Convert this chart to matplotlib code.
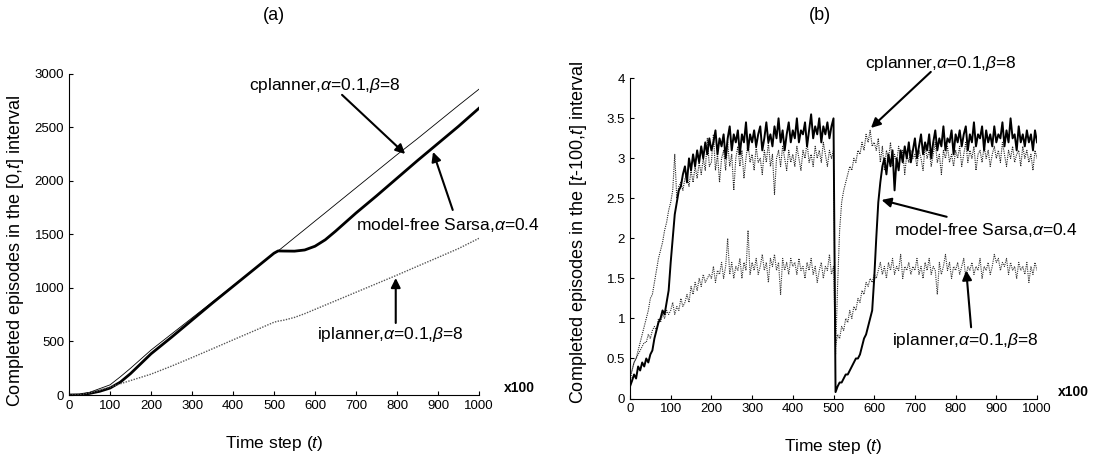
import matplotlib
matplotlib.use("Agg")
import matplotlib.pyplot as plt
import numpy as np

plt.rcParams['font.family'] = ['Liberation Sans', 'DejaVu Sans']
plt.rcParams['mathtext.fontset'] = 'custom'
plt.rcParams['mathtext.rm'] = 'Liberation Sans'
plt.rcParams['mathtext.it'] = 'Liberation Sans:italic'
plt.rcParams['mathtext.bf'] = 'Liberation Sans:bold'

# ---- panel (a): cumulative episodes ----
x_a = [0, 25, 50, 75, 100, 125, 150, 200, 250, 300, 350, 400, 450, 500, 510,
       525, 550, 575, 600, 625, 650, 700, 750, 800, 850, 900, 950, 1000]
cplanner_a = [0, 2, 25, 60, 95, 170, 250, 420, 570, 720, 870, 1020, 1170, 1320, 1346,
              1392, 1470, 1547, 1625, 1702, 1780, 1935, 2090, 2245, 2395, 2550, 2705, 2857]
sarsa_a = [0, 2, 15, 35, 65, 120, 200, 385, 540, 700, 860, 1015, 1170, 1325, 1346,
           1345, 1344, 1355, 1390, 1450, 1530, 1700, 1860, 2025, 2190, 2350, 2510, 2679]
iplanner_a = [0, 2, 20, 45, 75, 105, 135, 195, 270, 350, 432, 515, 597, 680, 690,
              700, 725, 760, 800, 840, 880, 960, 1040, 1120, 1203, 1285, 1368, 1464]

# ---- panel (b): episodes in the last 100 steps, sampled every 5 units ----
sarsa_b = [
    0.15, 0.22, 0.3, 0.25, 0.4, 0.35, 0.45, 0.4, 0.5, 0.45, 0.55, 0.6, 0.75, 0.85, 0.95, 1.0, 1.1, 1.05, 1.2, 1.35,
    1.7, 2.0, 2.3, 2.45, 2.6, 2.65, 2.8, 2.9, 2.7, 3.0, 2.85, 3.05, 2.9, 3.1, 2.95, 3.15, 3.0, 3.2, 3.05, 3.25,
    3.1, 3.2, 3.35, 3.05, 3.25, 3.15, 3.3, 3.0, 3.25, 3.4, 3.1, 3.3, 3.2, 3.35, 3.05, 3.3, 3.2, 3.45, 3.1, 3.3,
    3.2, 3.35, 3.15, 3.3, 3.4, 3.1, 3.25, 3.45, 3.2, 3.3, 3.15, 3.4, 3.25, 3.5, 3.2, 3.35, 3.1, 3.3, 3.45, 3.2,
    3.35, 3.25, 3.5, 3.2, 3.35, 3.3, 3.45, 3.15, 3.35, 3.55, 3.25, 3.4, 3.3, 3.5, 3.2, 3.4, 3.3, 3.45, 3.25, 3.4,
    3.5, 0.08, 0.15, 0.2, 0.2, 0.25, 0.3, 0.3, 0.35, 0.4, 0.45, 0.5, 0.5, 0.55, 0.65, 0.75, 0.8, 0.9, 1.0, 1.1,
    1.5, 2.0, 2.45, 2.7, 2.9, 3.0, 2.8, 3.05, 2.9, 3.1, 2.6, 3.0, 2.85, 3.1, 2.95, 3.15, 3.0, 3.2, 2.95, 3.1,
    3.25, 3.0, 3.15, 3.3, 3.05, 3.2, 3.1, 3.3, 3.0, 3.2, 3.35, 3.1, 3.25, 3.15, 3.4, 3.1, 3.25, 3.2, 3.35, 3.05,
    3.3, 3.2, 3.35, 3.15, 3.3, 3.4, 3.1, 3.3, 3.2, 3.45, 3.15, 3.3, 3.25, 3.4, 3.1, 3.35, 3.2, 3.3, 3.15, 3.4,
    3.2, 3.3, 3.25, 3.45, 3.15, 3.35, 3.2, 3.5, 3.25, 3.3, 3.1, 3.4, 3.2, 3.3, 3.15, 3.35, 3.2, 3.3, 3.1, 3.35,
    3.2]
cplanner_b = [
    0.2, 0.35, 0.45, 0.5, 0.6, 0.7, 0.8, 0.9, 1.0, 1.1, 1.25, 1.3, 1.45, 1.6, 1.75, 1.85, 1.95, 2.1, 2.2, 2.35,
    2.45, 2.6, 3.05, 2.5, 2.65, 2.7, 2.6, 2.75, 2.8, 2.65, 2.85, 2.7, 2.9, 2.75, 2.95, 2.8, 3.0, 2.85, 3.25, 2.9,
    2.95, 3.3, 2.85, 3.05, 2.7, 3.0, 3.1, 2.85, 3.2, 2.9, 3.05, 2.6, 3.0, 3.15, 2.9, 3.1, 2.75, 3.0, 3.2, 2.95,
    3.05, 2.85, 3.15, 2.95, 3.0, 2.8, 3.1, 2.95, 3.2, 2.9, 3.05, 2.55, 3.0, 3.1, 2.9, 3.15, 3.0, 2.85, 3.1, 2.95,
    3.05, 2.9, 3.15, 3.0, 2.85, 3.1, 3.0, 3.2, 2.95, 3.05, 2.9, 3.15, 3.0, 3.1, 2.95, 3.2, 3.05, 2.9, 3.1, 3.0,
    3.1, 0.55, 1.4, 2.1, 2.45, 2.6, 2.7, 2.8, 2.9, 2.85, 3.0, 2.95, 3.1, 3.05, 3.2, 3.1, 3.3, 3.2, 3.35, 3.15,
    3.2, 3.1, 3.25, 2.95, 3.15, 2.85, 3.1, 3.0, 3.2, 2.9, 3.05, 2.95, 3.15, 3.0, 3.1, 2.8, 3.05, 2.95, 3.1, 3.0,
    3.05, 2.9, 3.1, 3.0, 2.85, 3.15, 3.0, 3.1, 2.9, 3.05, 3.2, 2.95, 3.05, 2.8, 3.1, 3.0, 3.15, 2.95, 3.05, 2.9,
    3.1, 3.0, 3.15, 2.9, 3.05, 3.2, 2.95, 3.1, 3.0, 3.15, 2.85, 3.05, 3.1, 2.95, 3.15, 3.0, 3.1, 2.9, 3.05, 3.15,
    3.0, 3.1, 2.95, 3.2, 3.05, 2.9, 3.1, 3.0, 3.15, 2.95, 3.05, 3.1, 2.9, 3.15, 3.0, 3.1, 2.95, 3.05, 2.85, 3.1,
    3.0]
iplanner_b = [
    0.3, 0.35, 0.45, 0.5, 0.55, 0.6, 0.65, 0.7, 0.7, 0.8, 0.75, 0.85, 0.9, 0.85, 1.0, 0.95, 1.05, 1.0, 1.1, 1.05,
    1.1, 1.2, 1.05, 1.15, 1.1, 1.25, 1.15, 1.2, 1.3, 1.2, 1.4, 1.3, 1.45, 1.35, 1.5, 1.4, 1.55, 1.45, 1.5, 1.55,
    1.5, 1.65, 1.45, 1.6, 1.55, 1.7, 1.5, 1.65, 2.0, 1.55, 1.7, 1.5, 1.65, 1.6, 1.75, 1.5, 1.7, 1.6, 2.1, 1.55,
    1.7, 1.6, 1.75, 1.55, 1.65, 1.8, 1.6, 1.7, 1.45, 1.75, 1.65, 1.8, 1.6, 1.7, 1.3, 1.75, 1.6, 1.7, 1.55, 1.75,
    1.65, 1.7, 1.55, 1.75, 1.6, 1.65, 1.5, 1.7, 1.6, 1.75, 1.55, 1.65, 1.45, 1.6, 1.7, 1.5, 1.65, 1.6, 1.8, 1.55,
    1.65, 0.65, 0.8, 0.75, 0.9, 0.85, 1.0, 0.95, 1.1, 1.0, 1.15, 1.1, 1.25, 1.2, 1.35, 1.3, 1.45, 1.4, 1.5, 1.45,
    1.55, 1.5, 1.6, 1.7, 1.55, 1.65, 1.5, 1.7, 1.6, 1.75, 1.55, 1.65, 1.6, 1.8, 1.5, 1.65, 1.6, 1.7, 1.55, 1.65,
    1.6, 1.75, 1.55, 1.65, 1.5, 1.7, 1.6, 1.75, 1.55, 1.65, 1.6, 1.3, 1.7, 1.55, 1.65, 1.8, 1.6, 1.7, 1.5, 1.65,
    1.6, 1.7, 1.55, 1.65, 1.75, 1.5, 1.65, 1.6, 1.7, 1.55, 1.65, 1.6, 1.75, 1.5, 1.65, 1.6, 1.7, 1.55, 1.65, 1.8,
    1.7, 1.75, 1.6, 1.7, 1.65, 1.75, 1.55, 1.7, 1.6, 1.65, 1.5, 1.7, 1.6, 1.65, 1.55, 1.7, 1.45, 1.65, 1.55, 1.7,
    1.6]

x_ticks = [0, 100, 200, 300, 400, 500, 600, 700, 800, 900, 1000]
ya_ticks = [0, 500, 1000, 1500, 2000, 2500, 3000]
yb_ticks = [0, 0.5, 1, 1.5, 2, 2.5, 3, 3.5, 4]
yb_labels = ['0', '0.5', '1', '1.5', '2', '2.5', '3', '3.5', '4']

lab_c = r"cplanner,$\mathit{\alpha}\text{=}\mathit{0.1}$,$\mathit{\beta}\text{=}$8"
lab_s = r"model-free Sarsa,$\mathit{\alpha}\text{=}\mathit{0.4}$"
lab_i = r"iplanner,$\mathit{\alpha}\text{=}\mathit{0.1}$,$\mathit{\beta}\text{=}$8"

fig = plt.figure(figsize=(10.96, 4.59), dpi=100)
ax1 = fig.add_axes([0.063, 0.1394, 0.374, 0.6996])
ax2 = fig.add_axes([0.5748, 0.1318, 0.3714, 0.6976])

ax1.plot(x_a, cplanner_a, color='black', lw=0.6)
ax1.plot(x_a, sarsa_a, color='black', lw=2.0)
ax1.plot(x_a, iplanner_a, color='#555555', lw=1.0, ls=(0, (1, 1)))

xb = np.arange(len(sarsa_b)) * 5
ax2.plot(np.arange(len(iplanner_b)) * 5, iplanner_b, color='#333333', lw=0.8, ls=(0, (1, 1)))
ax2.plot(np.arange(len(cplanner_b)) * 5, cplanner_b, color='#222222', lw=0.8, ls=(0, (1, 1)))
ax2.plot(xb, sarsa_b, color='black', lw=1.4)

for ax in (ax1, ax2):
    ax.set_xlim(0, 1000)
    ax.set_xticks(x_ticks)
    ax.spines['top'].set_visible(False)
    ax.spines['right'].set_visible(False)
    ax.tick_params(direction='in', length=3, labelsize=9.5, width=0.8)
    ax.set_xlabel(r"Time step ($\mathit{t}$)", fontsize=12.5)
    ax.xaxis.set_label_coords(0.5, -0.12)

ax1.set_ylim(0, 3000)
ax1.set_yticks(ya_ticks)
ax1.set_ylabel(r"Completed episodes in the [0,$\mathit{t}$] interval", fontsize=13)
ax1.yaxis.set_label_coords(-0.105, 0.45)

ax2.set_ylim(0, 4)
ax2.set_yticks(yb_ticks)
ax2.set_yticklabels(yb_labels)
ax2.set_ylabel(r"Completed episodes in the [$\mathit{t}$-100,$\mathit{t}$] interval", fontsize=13)
ax2.yaxis.set_label_coords(-0.1, 0.52)

ax1.text(1.06, 0.0, "x100", transform=ax1.transAxes, fontsize=10, fontweight='bold', va='bottom')
ax2.text(1.052, 0.0, "x100", transform=ax2.transAxes, fontsize=10, fontweight='bold', va='bottom')

fig.text(274 / 1096, 0.967, "(a)", ha='center', va='center', fontsize=13)
fig.text(820 / 1096, 0.967, "(b)", ha='center', va='center', fontsize=13)

arrow = dict(arrowstyle='-|>', color='black', lw=1.5, mutation_scale=14, shrinkA=0, shrinkB=0)

# annotations panel (a)
ax1.text(439, 2888, lab_c, fontsize=12.5, va='center', clip_on=False)
ax1.annotate("", xy=(820, 2252), xytext=(666, 2804), arrowprops=arrow)
ax1.text(700, 1589, lab_s, fontsize=12.5, va='center', clip_on=False)
ax1.annotate("", xy=(888, 2271), xytext=(936, 1729), arrowprops=arrow)
ax1.text(606, 561, lab_i, fontsize=12.5, va='center', clip_on=False)
ax1.annotate("", xy=(797, 1093), xytext=(797, 673), arrowprops=arrow)

# annotations panel (b)
ax2.text(577, 4.19, lab_c, fontsize=12.5, va='center', clip_on=False)
ax2.annotate("", xy=(592, 3.38), xytext=(739, 4.08), arrowprops=arrow, annotation_clip=False)
ax2.text(649, 2.1, lab_s, fontsize=12.5, va='center', clip_on=False)
ax2.annotate("", xy=(618, 2.48), xytext=(778, 2.27), arrowprops=arrow)
ax2.text(644, 0.73, lab_i, fontsize=12.5, va='center', clip_on=False)
ax2.annotate("", xy=(826, 1.6), xytext=(838, 0.89), arrowprops=arrow)

fig.savefig("out.png", dpi=100)
